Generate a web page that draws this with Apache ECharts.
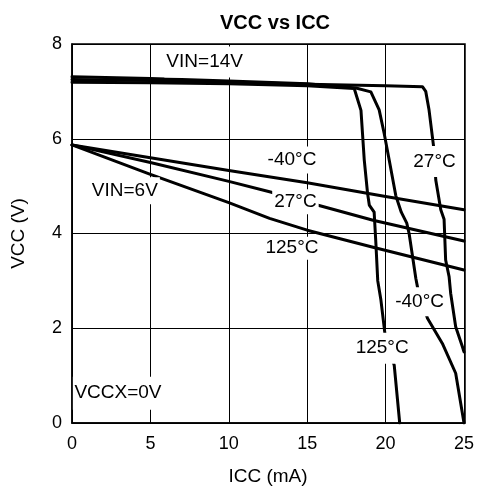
<!DOCTYPE html>
<html>
<head>
<meta charset="utf-8">
<script src="https://cdn.jsdelivr.net/npm/echarts@6/dist/echarts.min.js"></script>
<style>
html,body{margin:0;padding:0;background:#fff;}
#chart{width:477px;height:494px;}
</style>
</head>
<body>
<div id="chart"></div>
<script>
// VIN = 14V curves: [ICC (mA), VCC (V)]
const vin14_m40 = [[0,7.31],[5,7.27],[10,7.22],[15,7.16],[18.11,7.07],[19.06,6.99],[19.59,6.61],[19.91,6.11],[20.23,5.55],[20.65,4.8],[21.0,4.45],[21.35,4.22],[21.5,4.0],[21.93,3.05],[22.07,2.81],[22.67,2.21],[23.62,1.68],[24.47,1.05],[24.9,0.2],[25,0]];
const vin14_27 = [[0,7.25],[5,7.23],[10,7.2],[15,7.15],[20,7.12],[22.35,7.1],[22.56,7.0],[22.77,6.61],[23.09,5.76],[23.2,5.13],[23.52,4.5],[23.73,4.3],[23.83,3.44],[24.05,3.09],[24.15,2.74],[24.47,2.03],[24.9,1.61],[25,1.5]];
const vin14_125 = [[0,7.19],[5,7.18],[10,7.16],[15,7.12],[18.0,7.06],[18.43,6.6],[18.64,5.55],[18.85,4.85],[18.96,4.6],[19.27,4.45],[19.38,3.8],[19.5,3.0],[19.7,2.6],[19.97,1.85],[20.55,1.22],[20.9,0]];
// VIN = 6V curves
const vin6_m40 = [[0,5.87],[5,5.6],[10,5.33],[15,5.07],[20,4.78],[25,4.5]];
const vin6_27 = [[0,5.87],[5,5.5],[10,5.1],[12.6,4.88],[15,4.66],[19.2,4.28],[25,3.84]];
const vin6_125 = [[0,5.87],[5,5.25],[10,4.65],[12.6,4.32],[15,4.07],[19.2,3.71],[25,3.23]];
// Annotations: [x, y, text]
const notes = [
  [8.46,7.62,'VIN=14V'],
  [3.37,4.9,'VIN=6V'],
  [2.93,0.63,'VCCX=0V'],
  [14.03,5.55,'-40°C'],
  [14.25,4.67,'27°C'],
  [14.03,3.69,'125°C'],
  [23.12,5.52,'27°C'],
  [22.17,2.56,'-40°C'],
  [19.78,1.58,'125°C']
];
const notePad = [[6,2],[4,2],[7,2],[4,2],[3,2],[2,2],[6,2],[5,2],[6,2]];
const xTicks = [0,5,10,15,20,25];
const yTicks = [0,2,4,6,8];

const font = 'Liberation Sans, Arial, sans-serif';
function lineSeries(d){
  return {type:'line',data:d,showSymbol:false,symbol:'none',smooth:false,z:2,
    lineStyle:{color:'#000',width:3,join:'round',cap:'round'},animation:false};
}
const chart = echarts.init(document.getElementById('chart'));
chart.setOption({
  backgroundColor:'#fff',
  animation:false,
  title:{text:'VCC vs ICC',left:270,top:8,textAlign:'center',
    textStyle:{fontFamily:font,fontSize:20,fontWeight:'bold',color:'#000'}},
  grid:{left:72,right:12,top:44,bottom:71},
  xAxis:{type:'value',min:xTicks[0],max:xTicks[xTicks.length-1],interval:5,
    name:'ICC (mA)',nameLocation:'middle',nameGap:44,
    nameTextStyle:{fontFamily:font,fontSize:19,color:'#000'},
    axisLine:{show:true,lineStyle:{color:'#000',width:1.5}},
    axisTick:{show:false},
    axisLabel:{fontFamily:font,fontSize:18,color:'#000',margin:12},
    splitLine:{show:true,lineStyle:{color:'#000',width:1}}},
  yAxis:{type:'value',min:yTicks[0],max:yTicks[yTicks.length-1],interval:2,
    name:'VCC (V)',nameLocation:'middle',nameGap:44,nameRotate:90,
    nameTextStyle:{fontFamily:font,fontSize:19,color:'#000'},
    axisLine:{show:true,lineStyle:{color:'#000',width:1.5}},
    axisTick:{show:false},
    axisLabel:{fontFamily:font,fontSize:18,color:'#000',margin:10},
    splitLine:{show:true,lineStyle:{color:'#000',width:1}}},
  series:[
    lineSeries(vin14_m40),lineSeries(vin14_27),lineSeries(vin14_125),
    lineSeries(vin6_m40),lineSeries(vin6_27),lineSeries(vin6_125),
    {type:'scatter',z:10,symbolSize:1,silent:true,animation:false,
     itemStyle:{opacity:1,color:'#fff'},
     emphasis:{disabled:true},
     data:notes.map((n,i)=>({value:[n[0],n[1]],
       label:{show:true,position:'inside',formatter:n[2],fontFamily:font,fontSize:19,color:'#000',
         opacity:1,backgroundColor:'#fff',padding:notePad[i]}}))}
  ]
});
// outer frame (top/right border)
chart.setOption({graphic:[{type:'rect',z:100,silent:true,
  shape:{x:72,y:44,width:393,height:379},style:{fill:'none',stroke:'#000',lineWidth:1.5}}]});
</script>
</body>
</html>
